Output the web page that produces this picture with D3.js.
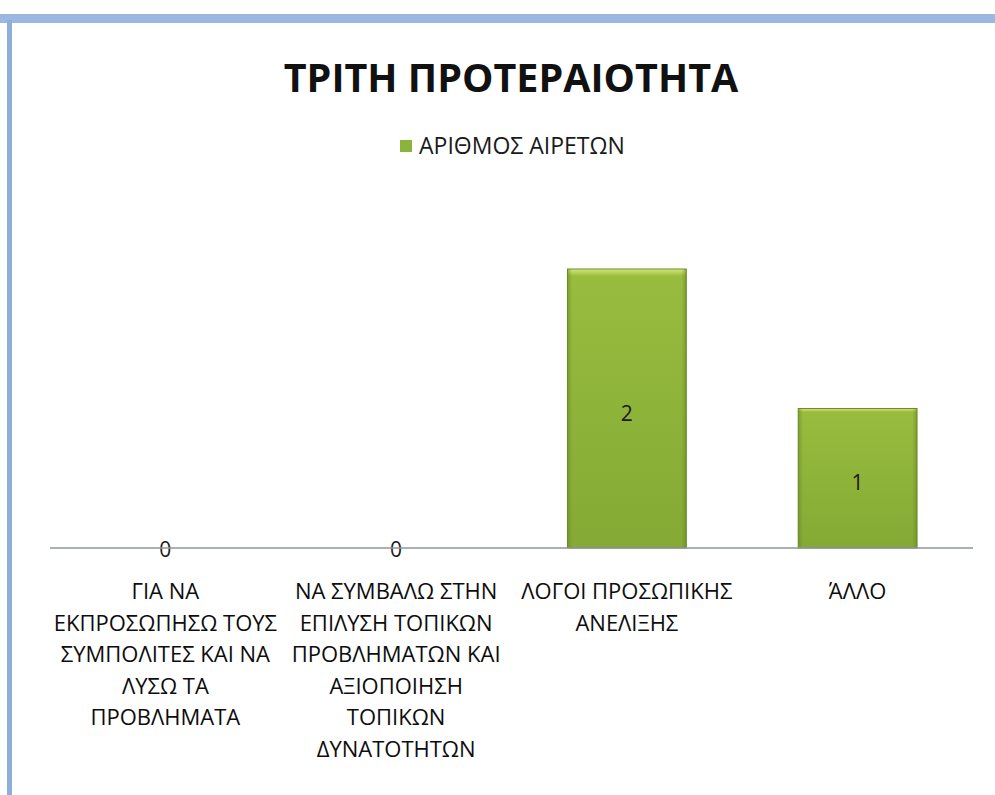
<!DOCTYPE html>
<meta charset="utf-8">
<script src="https://cdn.jsdelivr.net/npm/d3@7"></script>
<style>
body { margin: 0; background: #fff; font-family: "Open Sans", sans-serif; }
.title { font-size: 39.5px; font-weight: bold; fill: #111; }
.legend text { font-size: 23px; fill: #1a1a1a; }
.catlabel { font-size: 22px; fill: #0d0d0d; }
.vallabel { font-size: 21px; fill: #1a1a1a; }
</style>
<body>
<script>
// chart data
var categories = [
  ["ΓΙΑ ΝΑ", "ΕΚΠΡΟΣΩΠΗΣΩ ΤΟΥΣ", "ΣΥΜΠΟΛΙΤΕΣ ΚΑΙ ΝΑ", "ΛΥΣΩ ΤΑ", "ΠΡΟΒΛΗΜΑΤΑ"],
  ["ΝΑ ΣΥΜΒΑΛΩ ΣΤΗΝ", "ΕΠΙΛΥΣΗ ΤΟΠΙΚΩΝ", "ΠΡΟΒΛΗΜΑΤΩΝ ΚΑΙ", "ΑΞΙΟΠΟΙΗΣΗ", "ΤΟΠΙΚΩΝ", "ΔΥΝΑΤΟΤΗΤΩΝ"],
  ["ΛΟΓΟΙ ΠΡΟΣΩΠΙΚΗΣ", "ΑΝΕΛΙΞΗΣ"],
  ["ΆΛΛΟ"]
];
var values = [0, 0, 2, 1];
var seriesName = "ΑΡΙΘΜΟΣ ΑΙΡΕΤΩΝ";
var title = "ΤΡΙΤΗ ΠΡΟΤΕΡΑΙΟΤΗΤΑ";

var w = 995, h = 795;

var svg = d3.select("body").append("svg")
  .attr("width", w).attr("height", h);

var defs = svg.append("defs");
var grad = defs.append("linearGradient").attr("id", "bargrad")
  .attr("x1", 0).attr("y1", 0).attr("x2", 0).attr("y2", 1);
grad.append("stop").attr("offset", "0%").attr("stop-color", "#d6e77c");
grad.append("stop").attr("offset", "2.5%").attr("stop-color", "#98bc3e");
grad.append("stop").attr("offset", "100%").attr("stop-color", "#84aa35");
var hgrad = defs.append("linearGradient").attr("id", "barside")
  .attr("x1", 0).attr("y1", 0).attr("x2", 1).attr("y2", 0);
hgrad.append("stop").attr("offset", "0%").attr("stop-color", "#5f7f22").attr("stop-opacity", 0.5);
hgrad.append("stop").attr("offset", "4%").attr("stop-color", "#5f7f22").attr("stop-opacity", 0);
hgrad.append("stop").attr("offset", "96%").attr("stop-color", "#5f7f22").attr("stop-opacity", 0);
hgrad.append("stop").attr("offset", "100%").attr("stop-color", "#5f7f22").attr("stop-opacity", 0.5);

// scanned frame edges
svg.append("rect").attr("x", 0).attr("y", 14).attr("width", w).attr("height", 9)
  .attr("fill", "#9ab8e0");
svg.append("rect").attr("x", 7).attr("y", 20).attr("width", 5).attr("height", h - 20)
  .attr("fill", "#8eaedb");

var x = d3.scaleBand()
  .domain(d3.range(categories.length))
  .range([50, 973])
  .paddingInner(0.485)
  .paddingOuter(0.2425);

var y = d3.scaleLinear().domain([0, 2]).range([548, 269]);

svg.append("text").attr("class", "title")
  .attr("x", 511).attr("y", 92).attr("text-anchor", "middle")
  .text(title);

var lg = svg.append("g").attr("class", "legend").attr("transform", "translate(400,146)");
lg.append("rect").attr("x", 0).attr("y", -6).attr("width", 12).attr("height", 12)
  .attr("fill", "#8cb33a");
lg.append("text").attr("x", 19).attr("y", 8).text(seriesName);

var bars = svg.append("g").selectAll("g").data(values).enter().append("g");

bars.append("rect")
  .attr("x", function(d, i) { return x(i); })
  .attr("y", function(d) { return y(d); })
  .attr("width", x.bandwidth())
  .attr("height", function(d) { return y(0) - y(d); })
  .attr("fill", "url(#bargrad)")
  .attr("stroke", "#6c8d2a").attr("stroke-width", 1);
bars.append("rect")
  .attr("x", function(d, i) { return x(i); })
  .attr("y", function(d) { return y(d); })
  .attr("width", x.bandwidth())
  .attr("height", function(d) { return y(0) - y(d); })
  .attr("fill", "url(#barside)");

// axis line
svg.append("line").attr("x1", 50).attr("x2", 973)
  .attr("y1", y(0)).attr("y2", y(0))
  .attr("stroke", "#8e949c").attr("stroke-width", 1.5);

bars.append("text").attr("class", "vallabel")
  .attr("x", function(d, i) { return x(i) + x.bandwidth() / 2; })
  .attr("y", function(d) { return d === 0 ? y(0) + 9 : (y(d) + y(0)) / 2 + 12; })
  .attr("text-anchor", "middle")
  .text(function(d) { return d; });

var labels = svg.append("g").selectAll("text").data(categories).enter()
  .append("text").attr("class", "catlabel")
  .attr("text-anchor", "middle")
  .attr("x", function(d, i) { return x(i) + x.bandwidth() / 2; })
  .attr("y", 599);
labels.selectAll("tspan").data(function(d) { return d; }).enter()
  .append("tspan")
  .attr("x", function() { return d3.select(this.parentNode).attr("x"); })
  .attr("dy", function(d, i) { return i === 0 ? 0 : 31.5; })
  .text(function(d) { return d; });
</script>
</body>
</html>
